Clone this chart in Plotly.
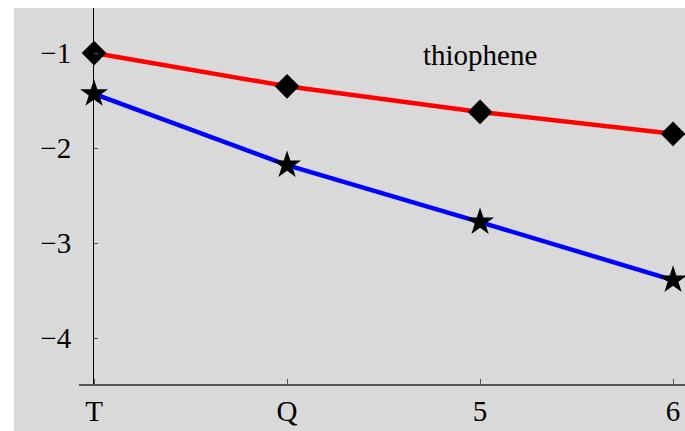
import plotly.graph_objects as go

categories = ["T", "Q", "5", "6"]
x_pos = [0, 1, 2, 3]
red_values = [-1.0, -1.35, -1.62, -1.85]
blue_values = [-1.43, -2.18, -2.78, -3.39]
y_ticks = [-1, -2, -3, -4]
label_text = "thiophene"

FONT = "Liberation Serif, Times New Roman, serif"

PW, PH = 606, 376  # plot area size

fig = go.Figure()
fig.add_trace(go.Scatter(
    x=x_pos, y=red_values, mode="lines+markers",
    line=dict(color="#ff0000", width=4.5),
    marker=dict(symbol="diamond", size=19, color="black"),
    cliponaxis=False, showlegend=False))
fig.add_trace(go.Scatter(
    x=x_pos, y=blue_values, mode="lines+markers",
    line=dict(color="#0000ff", width=4.5),
    marker=dict(symbol="star", size=21, color="black"),
    cliponaxis=False, showlegend=False))

fig.add_annotation(x=2, y=-1.02, text=label_text, showarrow=False,
                   font=dict(family=FONT, size=29, color="black"))

# gray backdrop
fig.add_shape(type="rect", xref="paper", yref="paper",
              x0=(14 - 79) / PW, x1=1.0, y0=-47 / PH, y1=1.0,
              fillcolor="#d9d9d9", line=dict(width=0), layer="below")

fig.update_layout(
    width=685, height=431,
    margin=dict(l=79, r=0, t=8, b=47, pad=0, autoexpand=False),
    paper_bgcolor="white", plot_bgcolor="rgba(0,0,0,0)",
    font=dict(family=FONT, size=29, color="black"),
    xaxis=dict(range=[-0.078, 3.062], tickvals=x_pos, ticktext=categories,
               showgrid=False, zeroline=False, showline=True,
               linecolor="#555555", linewidth=1.5,
               ticks="inside", ticklen=5, tickcolor="#555555",
               ticklabelstandoff=0, automargin=False,
               tickfont=dict(family=FONT, size=29)),
    yaxis=dict(range=[-4.484, -0.526], tickvals=y_ticks,
               anchor="free", position=(93 - 79) / PW,
               showgrid=False, zeroline=False, showline=True,
               linecolor="black", linewidth=1,
               ticks="inside", ticklen=4, tickcolor="#555555",
               ticklabelstandoff=16, automargin=False,
               tickfont=dict(family=FONT, size=29)),
)

fig.write_html(
    "out.html",
    config={"displayModeBar": False},
    post_script="document.body.style.margin='0';document.body.style.overflow='hidden';",
)
